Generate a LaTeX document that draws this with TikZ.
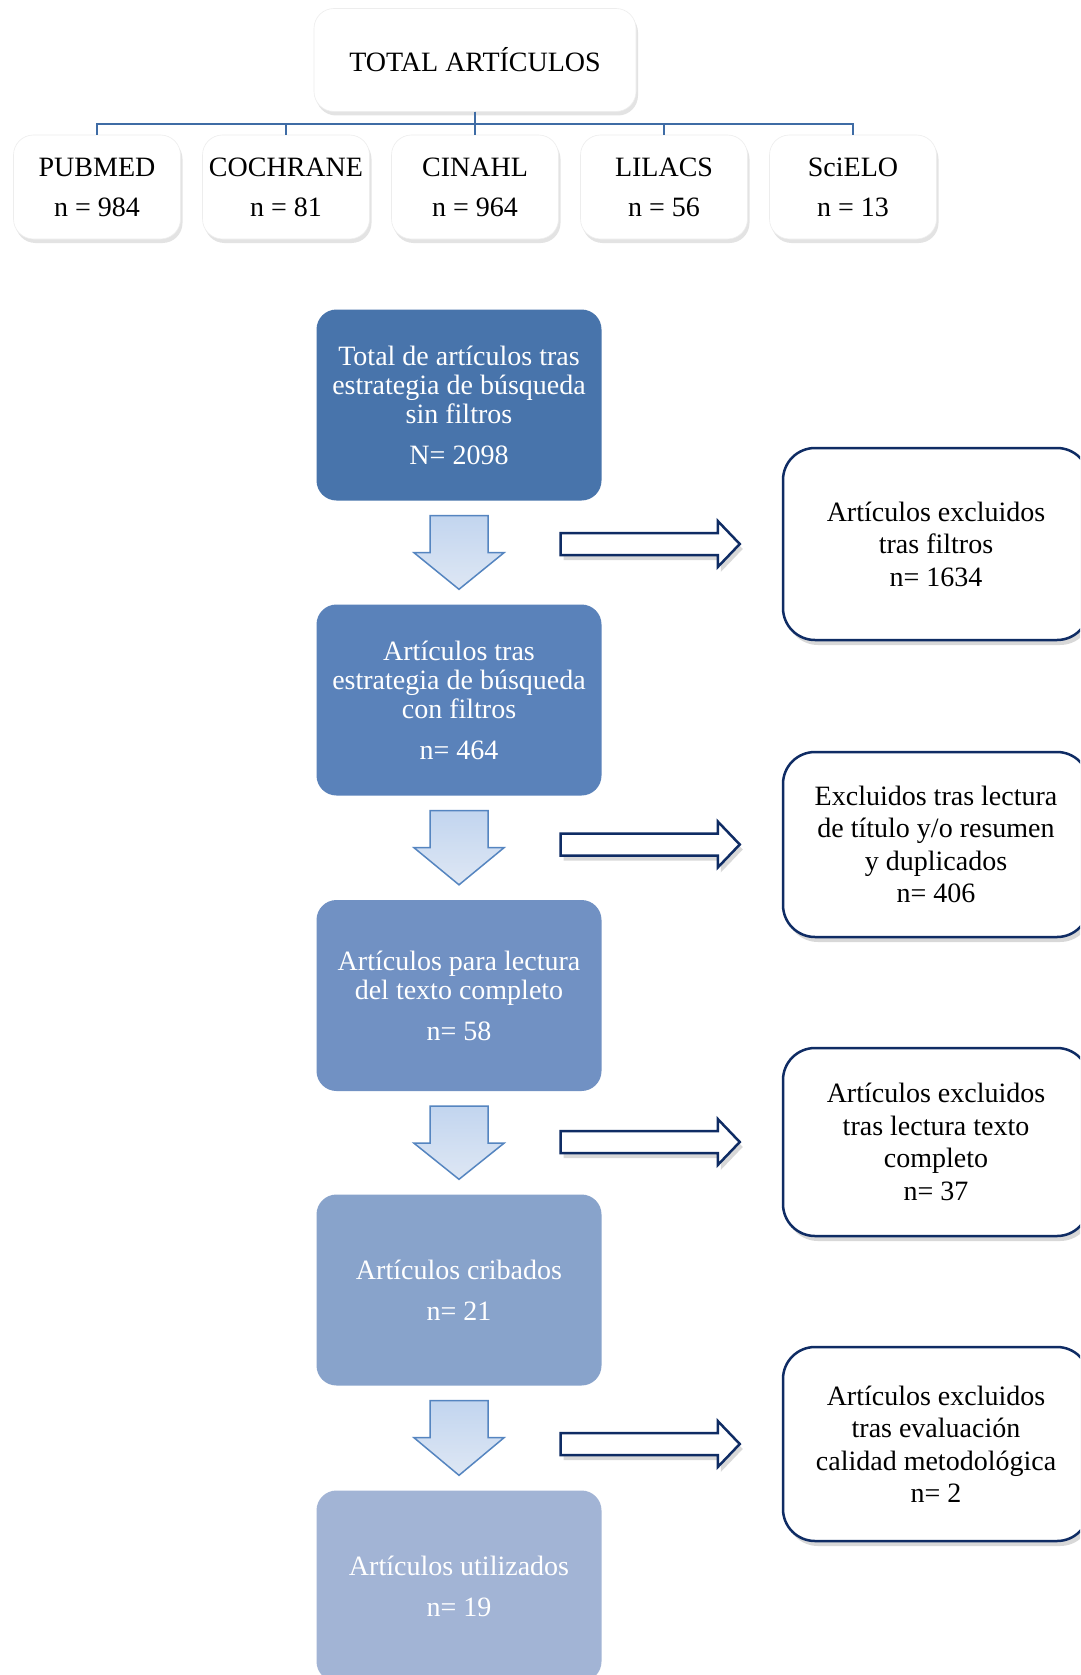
\documentclass[tikz,border=0pt]{standalone}
\usepackage{fontspec}
\setmainfont{Liberation Serif}
\usetikzlibrary{shadows,calc}
\definecolor{bA}{HTML}{4874AB}
\definecolor{bB}{HTML}{5A82BA}
\definecolor{bC}{HTML}{7191C3}
\definecolor{bD}{HTML}{88A3CB}
\definecolor{bE}{HTML}{A2B4D5}
\definecolor{conn}{HTML}{3F6CA5}
\definecolor{navy}{HTML}{0F2C64}
\definecolor{arrline}{HTML}{5585C0}
\definecolor{arrtop}{HTML}{C2D5EF}
\definecolor{arrbot}{HTML}{DEE7F4}
\newcommand{\flowdown}[2]{%
  \path ($(#1.south)+(0,15)$) coordinate (#1t) ($(#2.north)+(0,-15)$) coordinate (#1b);
  \draw[dnarr] ($(#1t)+(-29,0)$) -- ($(#1t)+(29,0)$) -- ($(#1t)+(29,37)$) -- ($(#1t)+(45,37)$) -- (#1b)
     -- ($(#1t)+(-45,37)$) -- ($(#1t)+(-29,37)$) -- cycle;}
\newcommand{\flowright}[2]{%
  \path ($(#1.east |- #2.west)+(-41,0)$) coordinate (#2s) ($(#2.west)+(-42,0)$) coordinate (#2p);
  \draw[rarr] ($(#2s)+(0,-11)$) -- ($(#2p)+(-22,-11)$) -- ($(#2p)+(-22,-23)$) -- (#2p)
     -- ($(#2p)+(-22,23)$) -- ($(#2p)+(-22,11)$) -- ($(#2s)+(0,11)$) -- cycle;}
\begin{document}
\begin{tikzpicture}[x=1pt,y=-1pt,
  topbox/.style={rectangle, rounded corners=20pt, fill=white, draw=black!7, line width=0.6pt,
    drop shadow={opacity=0.22, shadow xshift=2pt, shadow yshift=-4pt},
    minimum width=167pt, minimum height=104pt, align=center, inner sep=0pt,
    font=\fontsize{28}{32}\selectfont},
  bluebox/.style={rectangle, rounded corners=20pt, minimum width=285pt, minimum height=191pt,
    align=center, inner sep=0pt, text=white, font=\fontsize{28}{29}\selectfont},
  rbox/.style={rectangle, rounded corners=32pt, fill=white, draw=navy, line width=2.5pt,
    drop shadow={opacity=0.3, shadow xshift=3pt, shadow yshift=-5pt},
    minimum width=306pt, align=center, inner sep=0pt, font=\fontsize{28}{32.5}\selectfont},
  dnarr/.style={draw=arrline, line width=1.5pt, line join=miter, top color=arrtop, bottom color=arrbot},
  rarr/.style={draw=navy, line width=2.5pt, line join=miter, fill=white,
    drop shadow={opacity=0.3, shadow xshift=3pt, shadow yshift=-5pt}},
  connline/.style={draw=conn, line width=1.8pt}]
\useasboundingbox (0,0) rectangle (1080,1675);
\clip (0,0) rectangle (1080,1675);
\fill[white] (0,0) rectangle (1080,1675);

% top tree
\node[topbox, minimum width=322pt, minimum height=103pt] (total) at (475,60) {TOTAL ARTÍCULOS};
\node[topbox] (pubmed) at (97,187) {PUBMED\\[8pt]n = 984};
\node[topbox] (cochrane) at (286,187) {COCHRANE\\[8pt]n = 81};
\node[topbox] (cinahl) at (475,187) {CINAHL\\[8pt]n = 964};
\node[topbox] (lilacs) at (664,187) {LILACS\\[8pt]n = 56};
\node[topbox] (scielo) at (853,187) {SciELO\\[8pt]n = 13};
\coordinate (bus) at (475,124);
\foreach \s in {pubmed,cochrane,cinahl,lilacs,scielo}
  \draw[connline] (total.south) -- (bus) -| (\s.north);

% main column
\node[bluebox, fill=bA] (b1) at (459,405) {Total de artículos tras\\estrategia de búsqueda\\sin filtros\\[12pt]N= 2098};
\node[bluebox, fill=bB] (b2) at (459,700) {Artículos tras\\estrategia de búsqueda\\con filtros\\[12pt]n= 464};
\node[bluebox, fill=bC] (b3) at (459,995.5) {Artículos para lectura\\del texto completo\\[12pt]n= 58};
\node[bluebox, fill=bD] (b4) at (459,1290) {Artículos cribados\\[12pt]n= 21};
\node[bluebox, fill=bE] (b5) at (459,1586) {Artículos utilizados\\[12pt]n= 19};

\flowdown{b1}{b2}
\flowdown{b2}{b3}
\flowdown{b3}{b4}
\flowdown{b4}{b5}

% exclusion boxes
\node[rbox, minimum height=192pt] (r1) at (936,544) {Artículos excluidos\\tras filtros\\n= 1634};
\node[rbox, minimum height=185pt] (r2) at (936,844.5) {Excluidos tras lectura\\de título y/o resumen\\y duplicados\\n= 406};
\node[rbox, minimum height=188pt] (r3) at (936,1142) {Artículos excluidos\\tras lectura texto\\completo\\n= 37};
\node[rbox, minimum height=194pt] (r4) at (936,1444) {Artículos excluidos\\tras evaluación\\calidad metodológica\\n= 2};

\flowright{b1}{r1}
\flowright{b2}{r2}
\flowright{b3}{r3}
\flowright{b4}{r4}
\end{tikzpicture}
\end{document}
